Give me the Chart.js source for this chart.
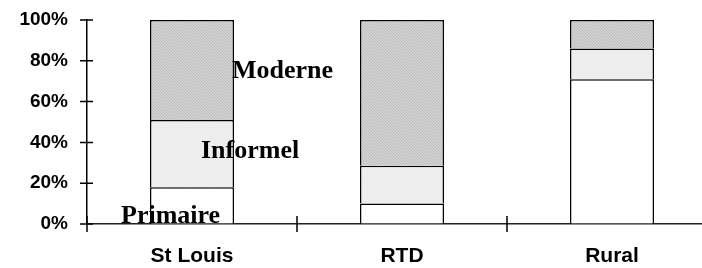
<!DOCTYPE html>
<html>
<head>
<meta charset="utf-8">
<script src="https://cdn.jsdelivr.net/npm/chart.js@4/dist/chart.umd.min.js"></script>
<style>
  html, body { margin: 0; padding: 0; background: #fff; overflow: hidden; }
  #wrap { position: absolute; left: 0; top: 0; width: 720px; height: 268px; }
</style>
</head>
<body>
<div id="wrap"><canvas id="c" width="720" height="268"></canvas></div>
<script>
// ---- data ----
const categories = ['St Louis', 'RTD', 'Rural'];
const primaire = [18, 10, 71];
const informel = [33, 18.5, 15];
const moderne = [49, 71.5, 14];
const seriesNames = ['Primaire', 'Informel', 'Moderne'];
const yTicks = [0, 20, 40, 60, 80, 100];

// fine hatched pattern for "Moderne"
function makeHatch() {
  const p = document.createElement('canvas');
  p.width = 3; p.height = 3;
  const g = p.getContext('2d');
  g.fillStyle = '#d2d2d2';
  g.fillRect(0, 0, 3, 3);
  g.fillStyle = '#bdbdbd';
  for (let i = 0; i < 3; i++) g.fillRect(i, i, 1, 1);
  return g.createPattern(p, 'repeat');
}
function makeLight() {
  const p = document.createElement('canvas');
  p.width = 3; p.height = 3;
  const g = p.getContext('2d');
  g.fillStyle = '#f0f0f0';
  g.fillRect(0, 0, 3, 3);
  g.fillStyle = '#e9e9e9';
  for (let i = 0; i < 3; i++) g.fillRect(i, i, 1, 1);
  return g.createPattern(p, 'repeat');
}

const crossTicks = {
  id: 'crossTicks',
  afterDraw(chart) {
    const ctx = chart.ctx;
    const xs = chart.scales.x, ys = chart.scales.y;
    ctx.save();
    ctx.strokeStyle = '#000';
    ctx.lineWidth = 1.5;
    ctx.beginPath();
    yTicks.forEach(v => {
      const y = ys.getPixelForValue(v);
      ctx.moveTo(xs.left - 7, y);
      ctx.lineTo(xs.left + 6, y);
    });
    for (let i = 0; i < categories.length; i++) {
      const x = xs.getPixelForValue(i - 0.5);
      ctx.moveTo(x, ys.bottom - 8);
      ctx.lineTo(x, ys.bottom + 8);
    }
    ctx.stroke();
    // series name annotations, beside the first bar
    ctx.fillStyle = '#000';
    ctx.font = 'bold 26px "Liberation Serif", "Times New Roman", serif';
    ctx.textBaseline = 'alphabetic';
    ctx.textAlign = 'left';
    const cx = xs.getPixelForValue(0);
    ctx.fillText(seriesNames[2], cx + 40, 78);
    ctx.fillText(seriesNames[1], cx + 9, 158);
    ctx.fillText(seriesNames[0], cx - 71, 223);
    ctx.restore();
  }
};

const common = { borderColor: '#000', borderWidth: 1.5, borderSkipped: 'start', barPercentage: 0.4, categoryPercentage: 1.0 };

new Chart(document.getElementById('c'), {
  type: 'bar',
  data: {
    labels: categories,
    datasets: [
      Object.assign({ label: seriesNames[0], data: primaire, backgroundColor: '#ffffff' }, common),
      Object.assign({ label: seriesNames[1], data: informel, backgroundColor: makeLight() }, common),
      Object.assign({ label: seriesNames[2], data: moderne, backgroundColor: makeHatch() }, common)
    ]
  },
  options: {
    responsive: false,
    animation: false,
    events: [],
    layout: { padding: { left: 0, top: 20, right: 3, bottom: 0 } },
    plugins: { legend: { display: false }, tooltip: { enabled: false } },
    scales: {
      x: {
        stacked: true,
        offset: true,
        grid: { display: true, drawOnChartArea: false, drawTicks: false },
        border: { display: true, color: '#222', width: 1.5 },
        ticks: { color: '#000', padding: 20, font: { family: '"Liberation Sans", Arial, sans-serif', size: 21, weight: 'bold' } },
        afterFit(s) { s.height = 44; s.paddingLeft = 0; s.paddingRight = 0; }
      },
      y: {
        stacked: true,
        min: 0, max: 100,
        afterBuildTicks(s) { s.ticks = yTicks.map(v => ({ value: v })); },
        grid: { display: true, drawOnChartArea: false, drawTicks: false },
        border: { display: true, color: '#000', width: 1.5 },
        ticks: { color: '#000', padding: 19, font: { family: '"Liberation Sans", Arial, sans-serif', size: 19, weight: 'bold' }, callback: v => v + '%' },
        afterFit(s) { s.width = 87; s.paddingTop = 0; s.paddingBottom = 0; }
      }
    }
  },
  plugins: [crossTicks]
});
</script>
</body>
</html>
